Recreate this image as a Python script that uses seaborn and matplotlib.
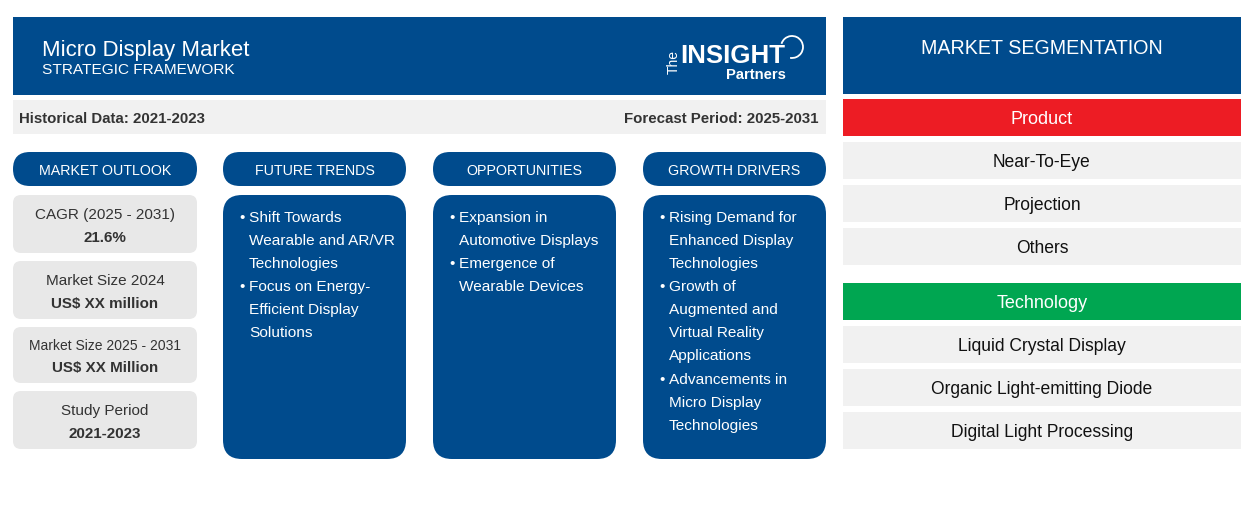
"""Micro Display Market strategic framework, drawn on a pixel-sized axes."""

import matplotlib.pyplot as plt
import seaborn as sns
from matplotlib.patches import Arc, FancyBboxPatch, Rectangle

BLUE = "#004B8D"
RED = "#ED1C24"
GREEN = "#00A651"
BAND = "#F1F1F1"
CARD = "#E8E8E8"
DARK = "#333333"

COLUMN_TITLES = ["MARKET OUTLOOK", "FUTURE TRENDS", "OPPORTUNITIES", "GROWTH DRIVERS"]
OUTLOOK_LABELS = ["CAGR (2025 - 2031)", "Market Size 2024", "Market Size 2025 - 2031", "Study Period"]
OUTLOOK_VALUES = ["21.6%", "US$ XX million", "US$ XX Million", "2021-2023"]
FUTURE_TRENDS = [
    ["Shift Towards", "Wearable and AR/VR", "Technologies"],
    ["Focus on Energy-", "Efficient Display", "Solutions"],
]
OPPORTUNITIES = [
    ["Expansion in", "Automotive Displays"],
    ["Emergence of", "Wearable Devices"],
]
GROWTH_DRIVERS = [
    ["Rising Demand for", "Enhanced Display", "Technologies"],
    ["Growth of", "Augmented and", "Virtual Reality", "Applications"],
    ["Advancements in", "Micro Display", "Technologies"],
]
PRODUCT_ITEMS = ["Near-To-Eye", "Projection", "Others"]
TECHNOLOGY_ITEMS = ["Liquid Crystal Display", "Organic Light-emitting Diode", "Digital Light Processing"]

sns.set_theme(style="white")
plt.rcParams["font.family"] = ["Liberation Sans", "DejaVu Sans"]

fig = plt.figure(figsize=(12.54, 5.30), dpi=100)
ax = fig.add_axes([0, 0, 1, 1])
ax.set_xlim(0, 1254)
ax.set_ylim(530, 0)
ax.set_axis_off()
sns.despine(ax=ax, left=True, bottom=True)


def box(x0, y0, x1, y1, color, radius=0):
    if radius:
        ax.add_patch(FancyBboxPatch(
            (x0 + radius, y0 + radius), x1 - x0 - 2 * radius, y1 - y0 - 2 * radius,
            boxstyle=f"round,pad={radius},rounding_size={radius}",
            facecolor=color, edgecolor="none",
        ))
    else:
        ax.add_patch(Rectangle((x0, y0), x1 - x0, y1 - y0, facecolor=color, edgecolor="none"))


def label(x, y, s, size=11, color="white", weight="normal", ha="center", **kw):
    ax.text(x, y, s, fontsize=size, color=color, fontweight=weight, ha=ha, va="center_baseline", **kw)


def bullets(x, groups):
    y = 216.3
    for group in groups:
        ax.text(x - 7, y, "\u2022", fontsize=10.8, color="white", ha="center", va="center_baseline")
        for line in group:
            label(x, y, line, size=11.1, ha="left")
            y += 23.1


# header
box(13, 17, 826, 95, BLUE)
label(42, 48, "Micro Display Market", size=15.9, ha="left")
label(42, 69, "STRATEGIC FRAMEWORK", size=11.1, ha="left")

# logo
label(680, 53.5, "INSIGHT", size=18.6, weight="bold", ha="left")
label(726, 73.5, "Partners", size=10.6, weight="bold", ha="left")
label(674, 56, "The", size=10, rotation=90)
ax.add_patch(Arc((792, 47), 22, 22, theta1=197, theta2=100, edgecolor="white", linewidth=1.3))

# dates band
box(13, 100, 826, 134, BAND)
label(19, 117.5, "Historical Data: 2021-2023", size=10.8, color=DARK, weight="bold", ha="left")
label(819, 117.5, "Forecast Period: 2025-2031", size=10.8, color=DARK, weight="bold", ha="right")

# column pills and panels
column_edges = [(13, 197), (223, 406), (433, 616), (643, 826)]
for (x0, x1), title in zip(column_edges, COLUMN_TITLES):
    box(x0, 152, x1, 186, BLUE, radius=17)
    label((x0 + x1) / 2, 169.5, title, size=10.25)
for x0, x1 in column_edges[1:]:
    box(x0, 195, x1, 459, BLUE, radius=19)

# outlook cards
card_rows = [(195, 253, 213.5, 236.5), (261, 319, 279.5, 302.5), (327, 383, 344.5, 366.5), (391, 449, 409.5, 432.5)]
label_sizes = [11, 11, 10, 11]
for (y0, y1, y_top, y_bot), name, value, fs in zip(card_rows, OUTLOOK_LABELS, OUTLOOK_VALUES, label_sizes):
    box(13, y0, 197, y1, CARD, radius=8)
    label(105, y_top, name, size=fs, color=DARK)
    label(105, y_bot, value, size=10.9, color=DARK, weight="bold")

bullets(249, FUTURE_TRENDS)
bullets(459, OPPORTUNITIES)
bullets(669, GROWTH_DRIVERS)

# segmentation
box(843, 17, 1241, 94, BLUE)
label(1042, 47, "MARKET SEGMENTATION", size=14.1)
box(843, 99, 1241, 136, RED)
label(1042, 117.5, "Product", size=13)
box(843, 283, 1241, 320, GREEN)
label(1042, 301.5, "Technology", size=13)
for y0, item in zip([142, 185, 228], PRODUCT_ITEMS):
    box(843, y0, 1241, y0 + 37, BAND)
    label(1042, y0 + 18.5, item, size=12.65, color="#111111")
for y0, item in zip([326, 369, 412], TECHNOLOGY_ITEMS):
    box(843, y0, 1241, y0 + 37, BAND)
    label(1042, y0 + 18.5, item, size=12.65, color="#111111")

fig.savefig("out.png", dpi=100)
